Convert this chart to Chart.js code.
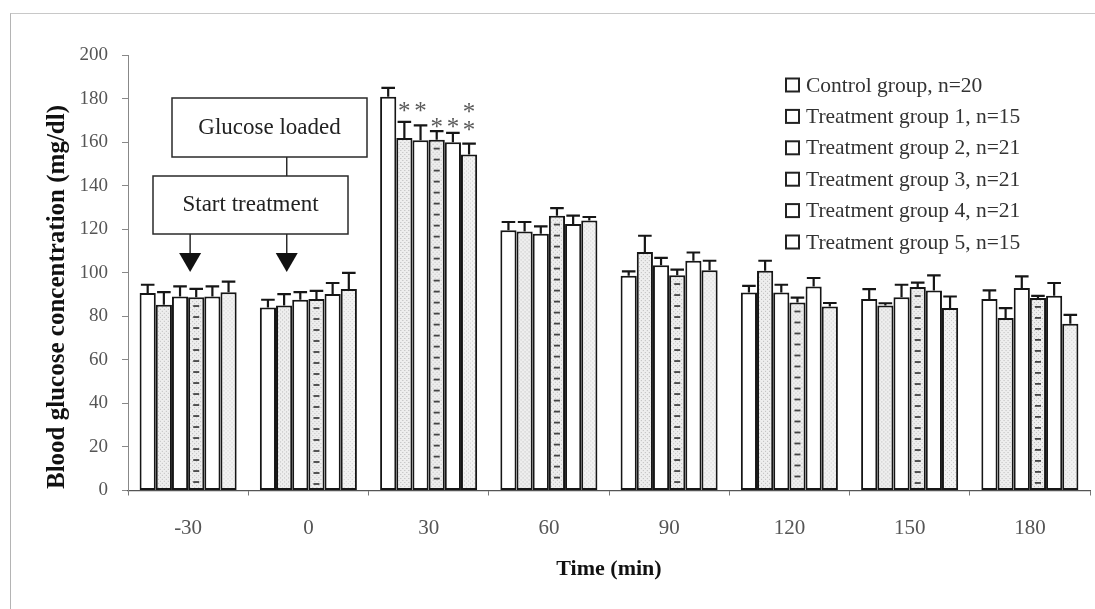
<!DOCTYPE html>
<html>
<head>
<meta charset="utf-8">
<script src="https://cdn.jsdelivr.net/npm/chart.js@4.4.1/dist/chart.umd.min.js"></script>
<style>
  html, body { margin: 0; padding: 0; background: #fff; }
  #wrap { position: relative; width: 1095px; height: 609px; overflow: hidden; }
  #frame { position: absolute; left: 10px; top: 13px; right: -5px; bottom: -5px;
           border-left: 1px solid #b4b4b4; border-top: 1px solid #c8c8c8; pointer-events: none; }
  canvas { position: absolute; left: 0; top: 0; }
</style>
</head>
<body>
<div id="wrap">
  <canvas id="c" width="1095" height="609" style="width:1095px;height:609px"></canvas>
  <div id="frame"></div>
</div>
<script>
// Sampling times (min) relative to the glucose load
const timePoints = ['-30', '0', '30', '60', '90', '120', '150', '180'];

const groupNames = [
  'Control group, n=20',
  'Treatment group 1, n=15',
  'Treatment group 2, n=21',
  'Treatment group 3, n=21',
  'Treatment group 4, n=21',
  'Treatment group 5, n=15'
];

// Mean blood glucose (mg/dl) and standard error per group
const control   = [90.7, 84.0, 180.8, 119.5, 98.6, 90.9, 88.0, 87.9];
const controlSE = [3.8, 3.6, 4.1, 3.8, 2.0, 3.1, 4.5, 4.0];
const group1    = [85.3, 85.0, 161.9, 119.0, 109.5, 100.9, 85.0, 79.2];
const group1SE  = [5.8, 5.2, 7.4, 4.3, 7.5, 4.6, 1.0, 4.6];
const group2    = [89.1, 87.6, 160.8, 117.9, 103.5, 90.9, 88.8, 93.0];
const group2SE  = [4.6, 3.5, 6.9, 3.4, 3.3, 3.6, 5.7, 5.3];
const group3    = [88.8, 87.9, 161.1, 126.2, 98.9, 86.3, 93.4, 88.4];
const group3SE  = [3.8, 3.8, 3.9, 3.5, 2.5, 2.3, 2.1, 1.0];
const group4    = [89.1, 90.2, 159.9, 122.4, 105.5, 93.7, 91.9, 89.4];
const group4SE  = [4.6, 5.1, 4.3, 3.8, 3.8, 3.9, 6.9, 5.9];
const group5    = [91.0, 92.5, 154.3, 124.0, 101.1, 84.5, 83.8, 76.6];
const group5SE  = [4.9, 7.4, 5.0, 1.6, 4.4, 1.6, 5.3, 4.1];

const yTicks = [0, 20, 40, 60, 80, 100, 120, 140, 160, 180, 200];

const SERIF = '"Liberation Serif", "Times New Roman", serif';
const INK = '#161616';
const BORDER_W = 2;

// Fine stipple textures for the shaded bars
function makeStipple(dots, color) {
  const t = document.createElement('canvas');
  t.width = 4; t.height = 4;
  const g = t.getContext('2d');
  g.fillStyle = color;
  dots.forEach(([x, y]) => g.fillRect(x, y, 1, 1));
  return t;
}
const stippleDark = makeStipple([[0, 0], [2, 2]], '#b8b8b8');
const stippleLight = makeStipple([[1, 0], [3, 2]], '#cccccc');

const textures = { 1: 'dots', 3: 'dashes', 5: 'light' };

const seriesValues = [control, group1, group2, group3, group4, group5];
const seriesSE = [controlSE, group1SE, group2SE, group3SE, group4SE, group5SE];
const fills = ['#ffffff', '#eeeeee', '#ffffff', '#eeeeee', '#ffffff', '#f2f2f2'];

const datasets = seriesValues.map((vals, i) => ({
  label: groupNames[i],
  data: vals,
  se: seriesSE[i],
  backgroundColor: fills[i],
  borderColor: INK,
  borderWidth: BORDER_W,
  borderSkipped: false,
  categoryPercentage: 0.807,
  barPercentage: 1.0
}));

// Texture inside each shaded bar, kept within the bar outline
const texturePlugin = {
  id: 'barTexture',
  afterDatasetDraw(chart, args) {
    const kind = textures[args.index];
    if (!kind) return;
    const ctx = chart.ctx;
    const bw = BORDER_W;
    args.meta.data.forEach(el => {
      const p = el.getProps(['x', 'y', 'base', 'width'], true);
      const left = p.x - p.width / 2 + bw, right = p.x + p.width / 2 - bw;
      const top = p.y + bw, bottom = p.base - bw;
      if (bottom <= top) return;
      ctx.save();
      ctx.beginPath();
      ctx.rect(left, top, right - left, bottom - top);
      ctx.clip();
      ctx.translate(left, top);
      const src = kind === 'light' ? stippleLight : stippleDark;
      ctx.fillStyle = ctx.createPattern(src, 'repeat');
      ctx.fillRect(0, 0, right - left, bottom - top);
      if (kind === 'dashes') {
        ctx.fillStyle = '#444';
        const w = right - left;
        for (let y = 6; y < bottom - top - 2; y += 11) {
          ctx.fillRect(w / 2 - 3, y, 6, 1.8);
        }
      }
      ctx.restore();
    });
  }
};

// Upward standard-error whiskers
const errorBarPlugin = {
  id: 'errorBars',
  afterDatasetsDraw(chart) {
    const ctx = chart.ctx;
    const yScale = chart.scales.y;
    chart.data.datasets.forEach((ds, i) => {
      const meta = chart.getDatasetMeta(i);
      meta.data.forEach((el, j) => {
        const p = el.getProps(['x', 'y', 'width'], true);
        const yTop = yScale.getPixelForValue(ds.data[j] + ds.se[j]);
        const half = p.width * 0.42;
        ctx.save();
        ctx.strokeStyle = INK;
        ctx.lineWidth = 2.2;
        ctx.beginPath();
        ctx.moveTo(p.x, p.y);
        ctx.lineTo(p.x, yTop);
        ctx.moveTo(p.x - half, yTop);
        ctx.lineTo(p.x + half, yTop);
        ctx.stroke();
        ctx.restore();
      });
    });
  }
};

// Significance asterisks at the 30 min sample
const starPlugin = {
  id: 'stars',
  afterDatasetsDraw(chart, args, opts) {
    const ctx = chart.ctx;
    const yScale = chart.scales.y;
    ctx.save();
    ctx.font = '25px ' + SERIF;
    ctx.fillStyle = '#5a5a5a';
    ctx.textAlign = 'center';
    ctx.textBaseline = 'alphabetic';
    opts.marks.forEach(m => {
      const el = chart.getDatasetMeta(m.ds).data[m.at];
      const y = yScale.getPixelForValue(m.level);
      ctx.fillText('*', el.x, y + 15);
    });
    ctx.restore();
  }
};

// Protocol flow boxes and arrows
const protocolPlugin = {
  id: 'protocol',
  afterDraw(chart) {
    const ctx = chart.ctx;
    const x = chart.scales.x;
    const step = x.getPixelForValue(1) - x.getPixelForValue(0);
    const a1 = x.getPixelForValue(0) + 2;
    const a2 = x.getPixelForValue(1) - step * 0.18;
    ctx.save();
    ctx.strokeStyle = '#2a2a2a';
    ctx.lineWidth = 1.5;
    ctx.fillStyle = '#ffffff';
    // Glucose loaded box
    ctx.fillRect(172, 98, 195, 59);
    ctx.strokeRect(172, 98, 195, 59);
    // Start treatment box
    ctx.fillRect(153, 176, 195, 58);
    ctx.strokeRect(153, 176, 195, 58);
    ctx.beginPath();
    ctx.moveTo(a2, 157);
    ctx.lineTo(a2, 176);
    ctx.stroke();
    ctx.font = '23px ' + SERIF;
    ctx.fillStyle = '#222';
    ctx.textAlign = 'center';
    ctx.textBaseline = 'middle';
    ctx.fillText('Glucose loaded', 269.5, 128);
    ctx.fillText('Start treatment', 250.5, 205);
    // Arrows
    [a1, a2].forEach(ax => {
      ctx.beginPath();
      ctx.moveTo(ax, 234);
      ctx.lineTo(ax, 254);
      ctx.stroke();
      ctx.beginPath();
      ctx.moveTo(ax - 11, 253);
      ctx.lineTo(ax + 11, 253);
      ctx.lineTo(ax, 272);
      ctx.closePath();
      ctx.fillStyle = '#111';
      ctx.fill();
    });
    ctx.restore();
  }
};

// Legend list with open boxes
const legendPlugin = {
  id: 'boxLegend',
  afterDraw(chart) {
    const ctx = chart.ctx;
    ctx.save();
    ctx.font = '21.5px ' + SERIF;
    ctx.textBaseline = 'middle';
    ctx.textAlign = 'left';
    chart.data.datasets.forEach((ds, i) => {
      const cy = 85 + i * 31.4;
      ctx.fillStyle = '#fff';
      ctx.fillRect(786, cy - 6.5, 13, 13);
      ctx.strokeStyle = '#222';
      ctx.lineWidth = 2;
      ctx.strokeRect(786, cy - 6.5, 13, 13);
      ctx.fillStyle = '#333';
      ctx.fillText(ds.label, 806, cy + 1);
    });
    ctx.restore();
  }
};

// Rotated value-axis title
const yTitlePlugin = {
  id: 'yTitle',
  afterDraw(chart) {
    const ctx = chart.ctx;
    ctx.save();
    ctx.translate(58, 297);
    ctx.rotate(-Math.PI / 2);
    ctx.font = 'bold 25px ' + SERIF;
    ctx.fillStyle = '#111';
    ctx.textAlign = 'center';
    ctx.textBaseline = 'middle';
    ctx.fillText('Blood glucose concentration (mg/dl)', 0, 0);
    ctx.restore();
  }
};

new Chart(document.getElementById('c'), {
  type: 'bar',
  data: { labels: timePoints, datasets },
  options: {
    responsive: false,
    animation: false,
    devicePixelRatio: 1,
    layout: { padding: { left: 0, top: 55, right: 5, bottom: 0 } },
    plugins: {
      legend: { display: false },
      tooltip: { enabled: false },
      stars: {
        marks: [
          { at: 2, ds: 1, level: 177.5 },
          { at: 2, ds: 2, level: 177.5 },
          { at: 2, ds: 3, level: 170 },
          { at: 2, ds: 4, level: 170 },
          { at: 2, ds: 5, level: 177 },
          { at: 2, ds: 5, level: 169 }
        ]
      }
    },
    scales: {
      x: {
        afterFit: s => { s.height = 118.5; },
        grid: { display: true, drawOnChartArea: false, drawTicks: true, tickLength: 5, color: '#777', offset: true },
        border: { display: true, color: '#555', width: 1.2 },
        ticks: { font: { family: SERIF, size: 21 }, color: '#555', padding: 20 },
        title: {
          display: true, text: 'Time (min)',
          font: { family: SERIF, size: 22, weight: 'bold' }, color: '#111',
          padding: { top: 0, bottom: 26 }
        }
      },
      y: {
        min: 0, max: 200,
        afterFit: s => { s.width = 128; },
        afterBuildTicks: s => { s.ticks = yTicks.map(v => ({ value: v })); },
        grid: { display: true, drawOnChartArea: false, drawTicks: true, tickLength: 6, color: '#888' },
        border: { display: true, color: '#888', width: 1 },
        ticks: { font: { family: SERIF, size: 19 }, color: '#555', padding: 14 }
      }
    }
  },
  plugins: [texturePlugin, errorBarPlugin, starPlugin, protocolPlugin, legendPlugin, yTitlePlugin]
});
</script>
</body>
</html>
